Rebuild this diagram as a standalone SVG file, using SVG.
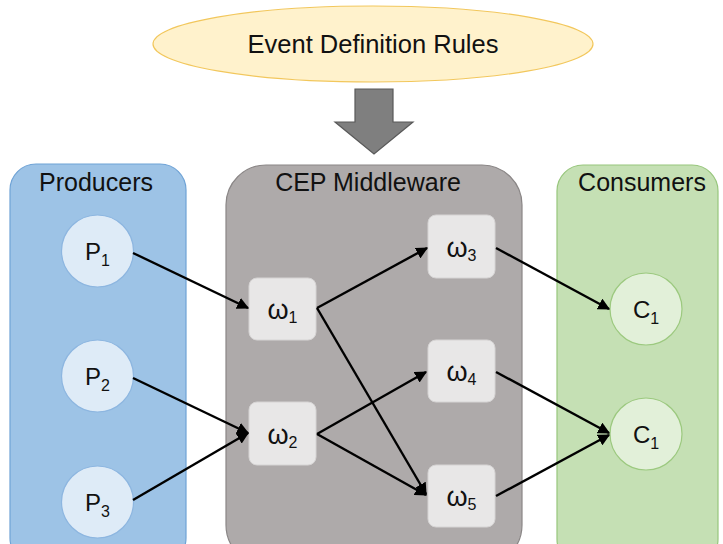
<svg xmlns="http://www.w3.org/2000/svg" width="723" height="544" viewBox="0 0 723 544">
  <defs>
    <style>
      text { font-family: "Liberation Sans", Arial, sans-serif; fill: #111; }
      .title { font-size: 25px; text-anchor: middle; }
      .lbl { font-size: 24px; text-anchor: middle; }
      .sub { font-size: 16px; }
      .om { font-size: 27px; text-anchor: middle; }
      .osub { font-size: 16px; }
      .pnode { fill: #deebf7; stroke: #8db6e0; stroke-width: 1.2; }
      .cnode { fill: #e2f0d9; stroke: #9cc97f; stroke-width: 1.2; }
      .wnode { fill: #e8e7e7; stroke: #d6d4d4; stroke-width: 1; }
      .edge { stroke: #000; stroke-width: 2.4; fill: none; marker-end: url(#arrow); }
    </style>
    <marker id="arrow" viewBox="0 0 10 10" refX="9" refY="5" markerWidth="5" markerHeight="5" orient="auto" markerUnits="strokeWidth">
      <path d="M0,0 L10,5 L0,10 z" fill="#000"/>
    </marker>
  </defs>

  <!-- rule source and block arrow -->
  <g id="rules">
    <ellipse cx="373" cy="44" rx="220" ry="38" fill="#fff2cc" stroke="#f2c75c" stroke-width="1.2"/>
    <text x="373" y="53" font-size="25.5" text-anchor="middle">Event Definition Rules</text>
  </g>
  <g id="rules-arrow">
    <path d="M355,89 L393,89 L393,122 L413,122 L374,154 L335,122 L355,122 z" fill="#7f7f7f" stroke="#595959" stroke-width="1.2"/>
  </g>

  <!-- containers -->
  <g id="producers">
    <rect x="10" y="164" width="176" height="400" rx="26" fill="#9dc3e6" stroke="#6fa3d6" stroke-width="1.2"/>
    <text class="title" x="96" y="191">Producers</text>
  </g>
  <g id="cep">
    <rect x="226" y="165" width="296" height="400" rx="40" fill="#aeaaaa" stroke="#8a8686" stroke-width="1.2"/>
    <text class="title" x="368" y="191">CEP Middleware</text>
  </g>
  <g id="consumers">
    <rect x="557" y="165" width="161" height="400" rx="26" fill="#c5e0b4" stroke="#97c67c" stroke-width="1.2"/>
    <text class="title" x="642" y="191">Consumers</text>
  </g>

  <!-- producers -->
  <g id="p1">
    <circle class="pnode" cx="97.5" cy="251" r="36"/>
    <text class="lbl" x="97.5" y="260">P<tspan class="sub" dy="6">1</tspan></text>
  </g>
  <g id="p2">
    <circle class="pnode" cx="97.5" cy="376" r="36"/>
    <text class="lbl" x="97.5" y="385">P<tspan class="sub" dy="6">2</tspan></text>
  </g>
  <g id="p3">
    <circle class="pnode" cx="97.5" cy="502" r="36"/>
    <text class="lbl" x="97.5" y="511">P<tspan class="sub" dy="6">3</tspan></text>
  </g>

  <!-- operators -->
  <g id="w1">
    <rect class="wnode" x="249" y="278" width="67" height="62" rx="8"/>
    <text class="om" x="282.5" y="319">ω<tspan class="osub" dy="4">1</tspan></text>
  </g>
  <g id="w2">
    <rect class="wnode" x="249" y="402" width="67" height="63" rx="8"/>
    <text class="om" x="282.5" y="444">ω<tspan class="osub" dy="4">2</tspan></text>
  </g>
  <g id="w3">
    <rect class="wnode" x="428" y="215" width="67" height="63" rx="8"/>
    <text class="om" x="461.5" y="257">ω<tspan class="osub" dy="4">3</tspan></text>
  </g>
  <g id="w4">
    <rect class="wnode" x="428" y="340" width="67" height="62" rx="8"/>
    <text class="om" x="461.5" y="381">ω<tspan class="osub" dy="4">4</tspan></text>
  </g>
  <g id="w5">
    <rect class="wnode" x="428" y="465" width="67" height="62" rx="8"/>
    <text class="om" x="461.5" y="506">ω<tspan class="osub" dy="4">5</tspan></text>
  </g>

  <!-- consumers -->
  <g id="c1">
    <circle class="cnode" cx="646" cy="309" r="36"/>
    <text class="lbl" x="646" y="318">C<tspan class="sub" dy="6">1</tspan></text>
  </g>
  <g id="c2">
    <circle class="cnode" cx="646" cy="434" r="36"/>
    <text class="lbl" x="646" y="443">C<tspan class="sub" dy="6">1</tspan></text>
  </g>

  <!-- event flows -->
  <g id="connectors">
    <line class="edge" x1="133" y1="253" x2="248" y2="308"/>
    <line class="edge" x1="133" y1="378" x2="248" y2="433"/>
    <line class="edge" x1="133" y1="500" x2="248" y2="433"/>
    <line class="edge" x1="317" y1="308" x2="427" y2="248"/>
    <line class="edge" x1="317" y1="308" x2="426" y2="494"/>
    <line class="edge" x1="317" y1="434" x2="426" y2="372"/>
    <line class="edge" x1="317" y1="434" x2="426" y2="495"/>
    <line class="edge" x1="496" y1="248" x2="609" y2="309"/>
    <line class="edge" x1="496" y1="372" x2="609" y2="433"/>
    <line class="edge" x1="496" y1="496" x2="609" y2="435"/>
  </g>
</svg>
